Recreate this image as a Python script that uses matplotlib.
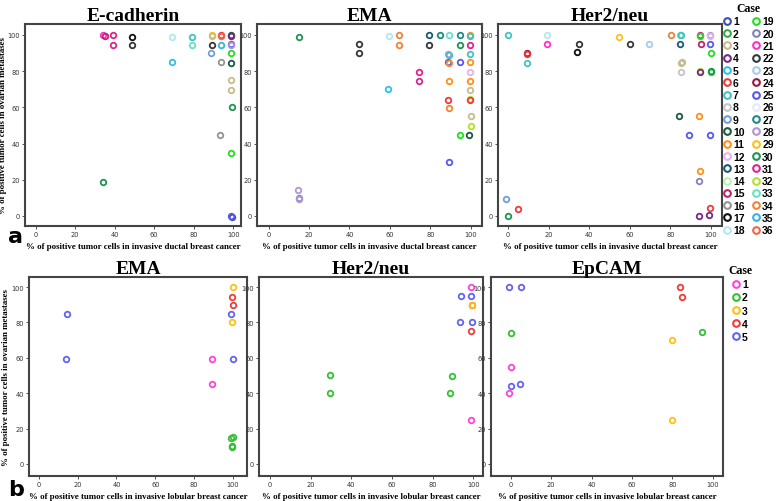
import matplotlib.pyplot as plt
from matplotlib.lines import Line2D

# colours of the 36 ductal cases and 5 lobular cases
ductal_colors = ['#3d4fa8', '#30b040', '#c8bc8c', '#7a2a80', '#30c0e8', '#f03a3a',
                 '#40c4c4', '#c4c4c4', '#70a0d8', '#1c5a3c', '#ff9018', '#e4b4e8',
                 '#1c5a74', '#b4f4b4', '#c02468', '#949494', '#101010', '#b4e8ec',
                 '#20e020', '#8484b8', '#ff30c8', '#383838', '#a8cce8', '#98183c',
                 '#5858f0', '#e8e8f8', '#208888', '#b494d4', '#ffc010', '#209454',
                 '#e0248c', '#b4e028', '#64e4c4', '#f08434', '#34b4e4', '#f46448']
lobular_colors = ['#ff44d8', '#34c034', '#ffc010', '#f43a3a', '#6464f0']

# panel a: invasive ductal
ecad_x = [34, 35, 39, 39, 49, 49, 69, 69, 79, 79, 89, 89, 89, 88.5, 94, 94, 94, 94, 93.5,
          99, 99, 99, 99, 99, 99, 99, 99, 99.5, 99, 99.5, 99, 34]
ecad_y = [100, 99.5, 100, 94.5, 99, 94.5, 99, 85, 99, 94.5, 100, 99.5, 94.5, 90, 100, 99.5, 94.5, 85, 45,
          100, 99.5, 95, 94.5, 90, 84.5, 75, 69.5, 60, 35, -0.5, 0, 19]
ecad_case = [21, 15, 31, 31, 17, 22, 18, 5, 7, 33, 29, 3, 22, 9, 6, 36, 35, 16, 16,
             10, 4, 25, 28, 19, 10, 3, 3, 30, 19, 1, 25, 30]

ema_x = [15, 44.5, 44.5, 59.5, 64.5, 64.5, 59, 74.5, 74.5, 79.5, 79.5, 85, 89.5, 94.5, 94.5,
         99.5, 99.5, 99.5, 89, 89.5, 89, 89.5, 94.5, 99.5, 99.5, 99.5, 99.5, 89.5, 99.5, 99.5,
         99.5, 89, 89.5, 100, 100, 94.5, 99, 89.5, 14.5, 15, 15]
ema_y = [99, 95, 90, 99.5, 100, 94.5, 70, 79.5, 74.5, 100, 94.5, 100, 100, 100, 94.5,
         100, 99.5, 94.5, 89.5, 89, 85, 84.5, 85, 89.5, 85, 79.5, 74.5, 74.5, 69.5, 64.5,
         64, 64, 59.5, 55, 49.5, 44.5, 44.5, 30, 14.5, 10, 9.5]
ema_case = [30, 22, 22, 18, 34, 34, 5, 31, 31, 13, 22, 27, 33, 27, 30,
            11, 7, 31, 28, 7, 25, 11, 25, 7, 11, 12, 11, 11, 3, 32,
            6, 6, 34, 3, 32, 19, 10, 25, 28, 20, 28]

her_x = [0, 19.5, 19.5, 9.5, 9.5, 9.5, 35, 34, 54.5, 60, 69.5, 80.5, 84.5, 85, 84.5,
         85, 85.5, 85, 94.5, 94.5, 99.5, 99.5, 95, 99.5, 100, 94.5, 94.5, 100, 100,
         84, 94, 89, 99.5, 94.5, 94, -1, 5, 0, 99.5, 94, 99]
her_y = [100, 100, 95, 90, 89.5, 84.5, 95, 90.5, 99, 95, 95, 100, 100, 100, 95,
         84.5, 85, 79.5, 100, 99.5, 100, 99.5, 95, 95, 90, 80, 79.5, 79.5, 80,
         55, 55, 45, 45, 25, 19.5, 9.5, 4, 0, 4.5, 0, 0.5]
her_case = [7, 18, 21, 24, 6, 7, 22, 17, 29, 22, 23, 34, 33, 7, 13,
            3, 3, 8, 31, 19, 28, 12, 15, 25, 19, 32, 4, 19, 30,
            10, 11, 25, 25, 11, 20, 9, 6, 30, 6, 4, 4]

# panel b: invasive lobular
lob_ema_x = [14.5, 14, 100, 99.5, 100, 99, 99.5, 89.5, 100, 89, 99, 100, 99.5, 99.5]
lob_ema_y = [85, 59.5, 100, 94.5, 90, 84.5, 80, 59.5, 59.5, 45, 14.5, 15, 10, 9.5]
lob_ema_case = [5, 5, 3, 4, 4, 5, 3, 1, 5, 1, 2, 2, 2, 2]

lob_her_x = [29.5, 29.5, 89.5, 88.5, 99, 99, 94, 99, 99.5, 99.5, 93.5, 99.5, 99]
lob_her_y = [50, 40, 49.5, 40, 25, 100, 95, 95, 90, 90, 80, 80, 75]
lob_her_case = [2, 2, 2, 2, 1, 1, 5, 5, 4, 3, 5, 5, 4]

lob_ep_x = [-1, 5, 84, 85, 0, 94.5, 80, 0, 4.5, 0, -1, 80]
lob_ep_y = [100, 100, 100, 94.5, 74, 74.5, 70, 55, 45, 44, 40, 25]
lob_ep_case = [5, 5, 4, 4, 2, 2, 3, 1, 5, 5, 1, 3]

serif = 'Liberation Serif'

fig = plt.figure(figsize=(7.78, 5.02), dpi=100)


def panel(rect, xs, ys, cases, colors, title, xlim, ylim, xlabel, ylabel=None):
    ax = fig.add_axes(rect)
    for x, y, c in zip(xs, ys, cases):
        ax.plot(x, y, 'o', ms=4.0, mfc='none', mec=colors[c - 1], mew=1.3)
    ax.set_xlim(*xlim)
    ax.set_ylim(*ylim)
    ax.set_xticks([0, 20, 40, 60, 80, 100])
    ax.set_yticks([0, 20, 40, 60, 80, 100])
    ax.tick_params(labelsize=4.8, length=2, width=0.6, pad=1.5, colors='#333333')
    for s in ax.spines.values():
        s.set_color('#444444')
        s.set_linewidth(1.5)
    ax.set_title(title, family=serif, fontweight='bold', fontsize=14, pad=3)
    ax.set_xlabel(xlabel, family=serif, fontweight='bold', fontsize=6.4, labelpad=4)
    if ylabel:
        ax.set_ylabel(ylabel, family=serif, fontweight='bold', fontsize=6.4)
        ax.yaxis.set_label_coords(-0.085, 0.5)
    return ax


ylab = '% of positive tumor cells in ovarian metastases'
xd = '% of positive tumor cells in invasive ductal breast cancer'
xl = '% of positive tumor cells in invasive lobular breast cancer'

top_b, top_h = 0.548, 0.402
panel([0.032, top_b, 0.278, top_h], ecad_x, ecad_y, ecad_case, ductal_colors,
      'E-cadherin', (-5.4, 104), (-5.5, 106), xd, ylab)
panel([0.330, top_b, 0.289, top_h], ema_x, ema_y, ema_case, ductal_colors,
      'EMA', (-5.9, 105.4), (-5.5, 106), xd)
panel([0.640, top_b, 0.288, top_h], her_x, her_y, her_case, ductal_colors,
      'Her2/neu', (-4.9, 105.4), (-5.5, 106), xd)

bot_b, bot_h = 0.050, 0.396
panel([0.037, bot_b, 0.281, bot_h], lob_ema_x, lob_ema_y, lob_ema_case, lobular_colors,
      'EMA', (-5.2, 107.5), (-6.8, 105.6), xl, ylab)
panel([0.333, bot_b, 0.288, bot_h], lob_her_x, lob_her_y, lob_her_case, lobular_colors,
      'Her2/neu', (-5.4, 104.9), (-6.8, 105.6), xl)
panel([0.631, bot_b, 0.298, bot_h], lob_ep_x, lob_ep_y, lob_ep_case, lobular_colors,
      'EpCAM', (-9.9, 105), (-6.8, 105.6), xl)

# legends
leg_font = {'family': 'Liberation Sans', 'weight': 'bold', 'size': 7.5}
h_top = [Line2D([], [], ls='none', marker='o', ms=4.8, mfc='none', mec=c, mew=1.5)
         for c in ductal_colors]
leg = fig.legend(h_top, [str(i + 1) for i in range(36)], ncol=2, loc='upper left',
                 bbox_to_anchor=(0.926, 1.0), frameon=False, title='Case',
                 prop=leg_font, handlelength=0.6, handletextpad=0.3,
                 columnspacing=0.8, labelspacing=0.22, borderpad=0.1, borderaxespad=0.2)
leg.get_title().set_fontfamily(serif)
leg.get_title().set_fontweight('bold')
leg.get_title().set_fontsize(8.5)

h_bot = [Line2D([], [], ls='none', marker='o', ms=4.8, mfc='none', mec=c, mew=1.5)
         for c in lobular_colors]
leg2 = fig.legend(h_bot, [str(i + 1) for i in range(5)], loc='upper left',
                  bbox_to_anchor=(0.932, 0.478), frameon=False, title='Case',
                  prop=leg_font, handlelength=0.6, handletextpad=0.3,
                  labelspacing=0.3, borderpad=0.1, borderaxespad=0.2)
leg2.get_title().set_fontfamily(serif)
leg2.get_title().set_fontweight('bold')
leg2.get_title().set_fontsize(8.5)

fig.text(0.010, 0.515, 'a', fontsize=16, fontweight='bold')
fig.text(0.010, 0.012, 'b', fontsize=16, fontweight='bold')

fig.savefig('out.png', dpi=100)
